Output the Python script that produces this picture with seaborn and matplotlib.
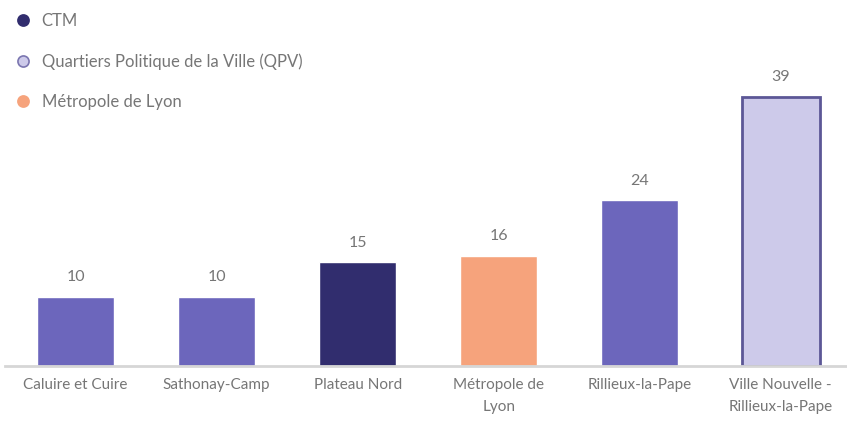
import matplotlib
matplotlib.use("Agg")
import matplotlib.pyplot as plt
from matplotlib.lines import Line2D
import seaborn as sns
import pandas as pd

# données
territoires = ["Caluire et Cuire", "Sathonay-Camp", "Plateau Nord",
               "Métropole de\nLyon", "Rillieux-la-Pape", "Ville Nouvelle -\nRillieux-la-Pape"]
valeurs = [10, 10, 15, 16, 24, 39]
couleurs = ["#6c66bc", "#6c66bc", "#312d6e", "#f6a37c", "#6c66bc", "#cdcaea"]

legende_noms = ["CTM", "Quartiers Politique de la Ville (QPV)", "Métropole de Lyon"]
legende_couleurs = ["#312d6e", "#cdcaea", "#f6a37c"]
legende_bords = ["#312d6e", "#7b76b0", "#f6a37c"]

df = pd.DataFrame({"territoire": territoires, "valeur": valeurs})

sns.set_theme(style="white")
plt.rcParams["font.family"] = ["Lato", "DejaVu Sans"]

gris = "#767676"

fig = plt.figure(figsize=(8.47, 4.23), dpi=100)
ax = fig.add_axes([0.006, 0.135, 0.994, 0.794])

sns.barplot(data=df, x="territoire", y="valeur", hue="territoire",
            palette=couleurs, width=0.55, legend=False, ax=ax, saturation=1)

# contour de la dernière barre (QPV)
ax.patches[-1].set_edgecolor("#5c5796")
ax.patches[-1].set_linewidth(2)

for cont in ax.containers:
    ax.bar_label(cont, padding=9, color=gris, fontsize=11.5)

ax.set_xlim(-0.5, 5.47)
ax.set_ylim(0, 48.7)
ax.set_xlabel("")
ax.set_ylabel("")
ax.set_yticks([])
ax.tick_params(axis="x", colors=gris, labelsize=11, length=0, pad=9)
for lab in ax.get_xticklabels():
    lab.set_linespacing(1.65)
for s in ["top", "right", "left"]:
    ax.spines[s].set_visible(False)
ax.spines["bottom"].set_color("#d6d6d6")
ax.spines["bottom"].set_linewidth(2)

handles = [Line2D([0], [0], marker="o", linestyle="", markersize=8,
                  markerfacecolor=c, markeredgecolor=e, markeredgewidth=1.2)
           for c, e in zip(legende_couleurs, legende_bords)]
leg = fig.legend(handles, legende_noms, loc="upper left", bbox_to_anchor=(0.0, 1.005),
                 frameon=False, fontsize=12, labelspacing=1.45, handletextpad=0.6,
                 handlelength=1.0)
for t in leg.get_texts():
    t.set_color(gris)

plt.savefig("out.png", dpi=100)
